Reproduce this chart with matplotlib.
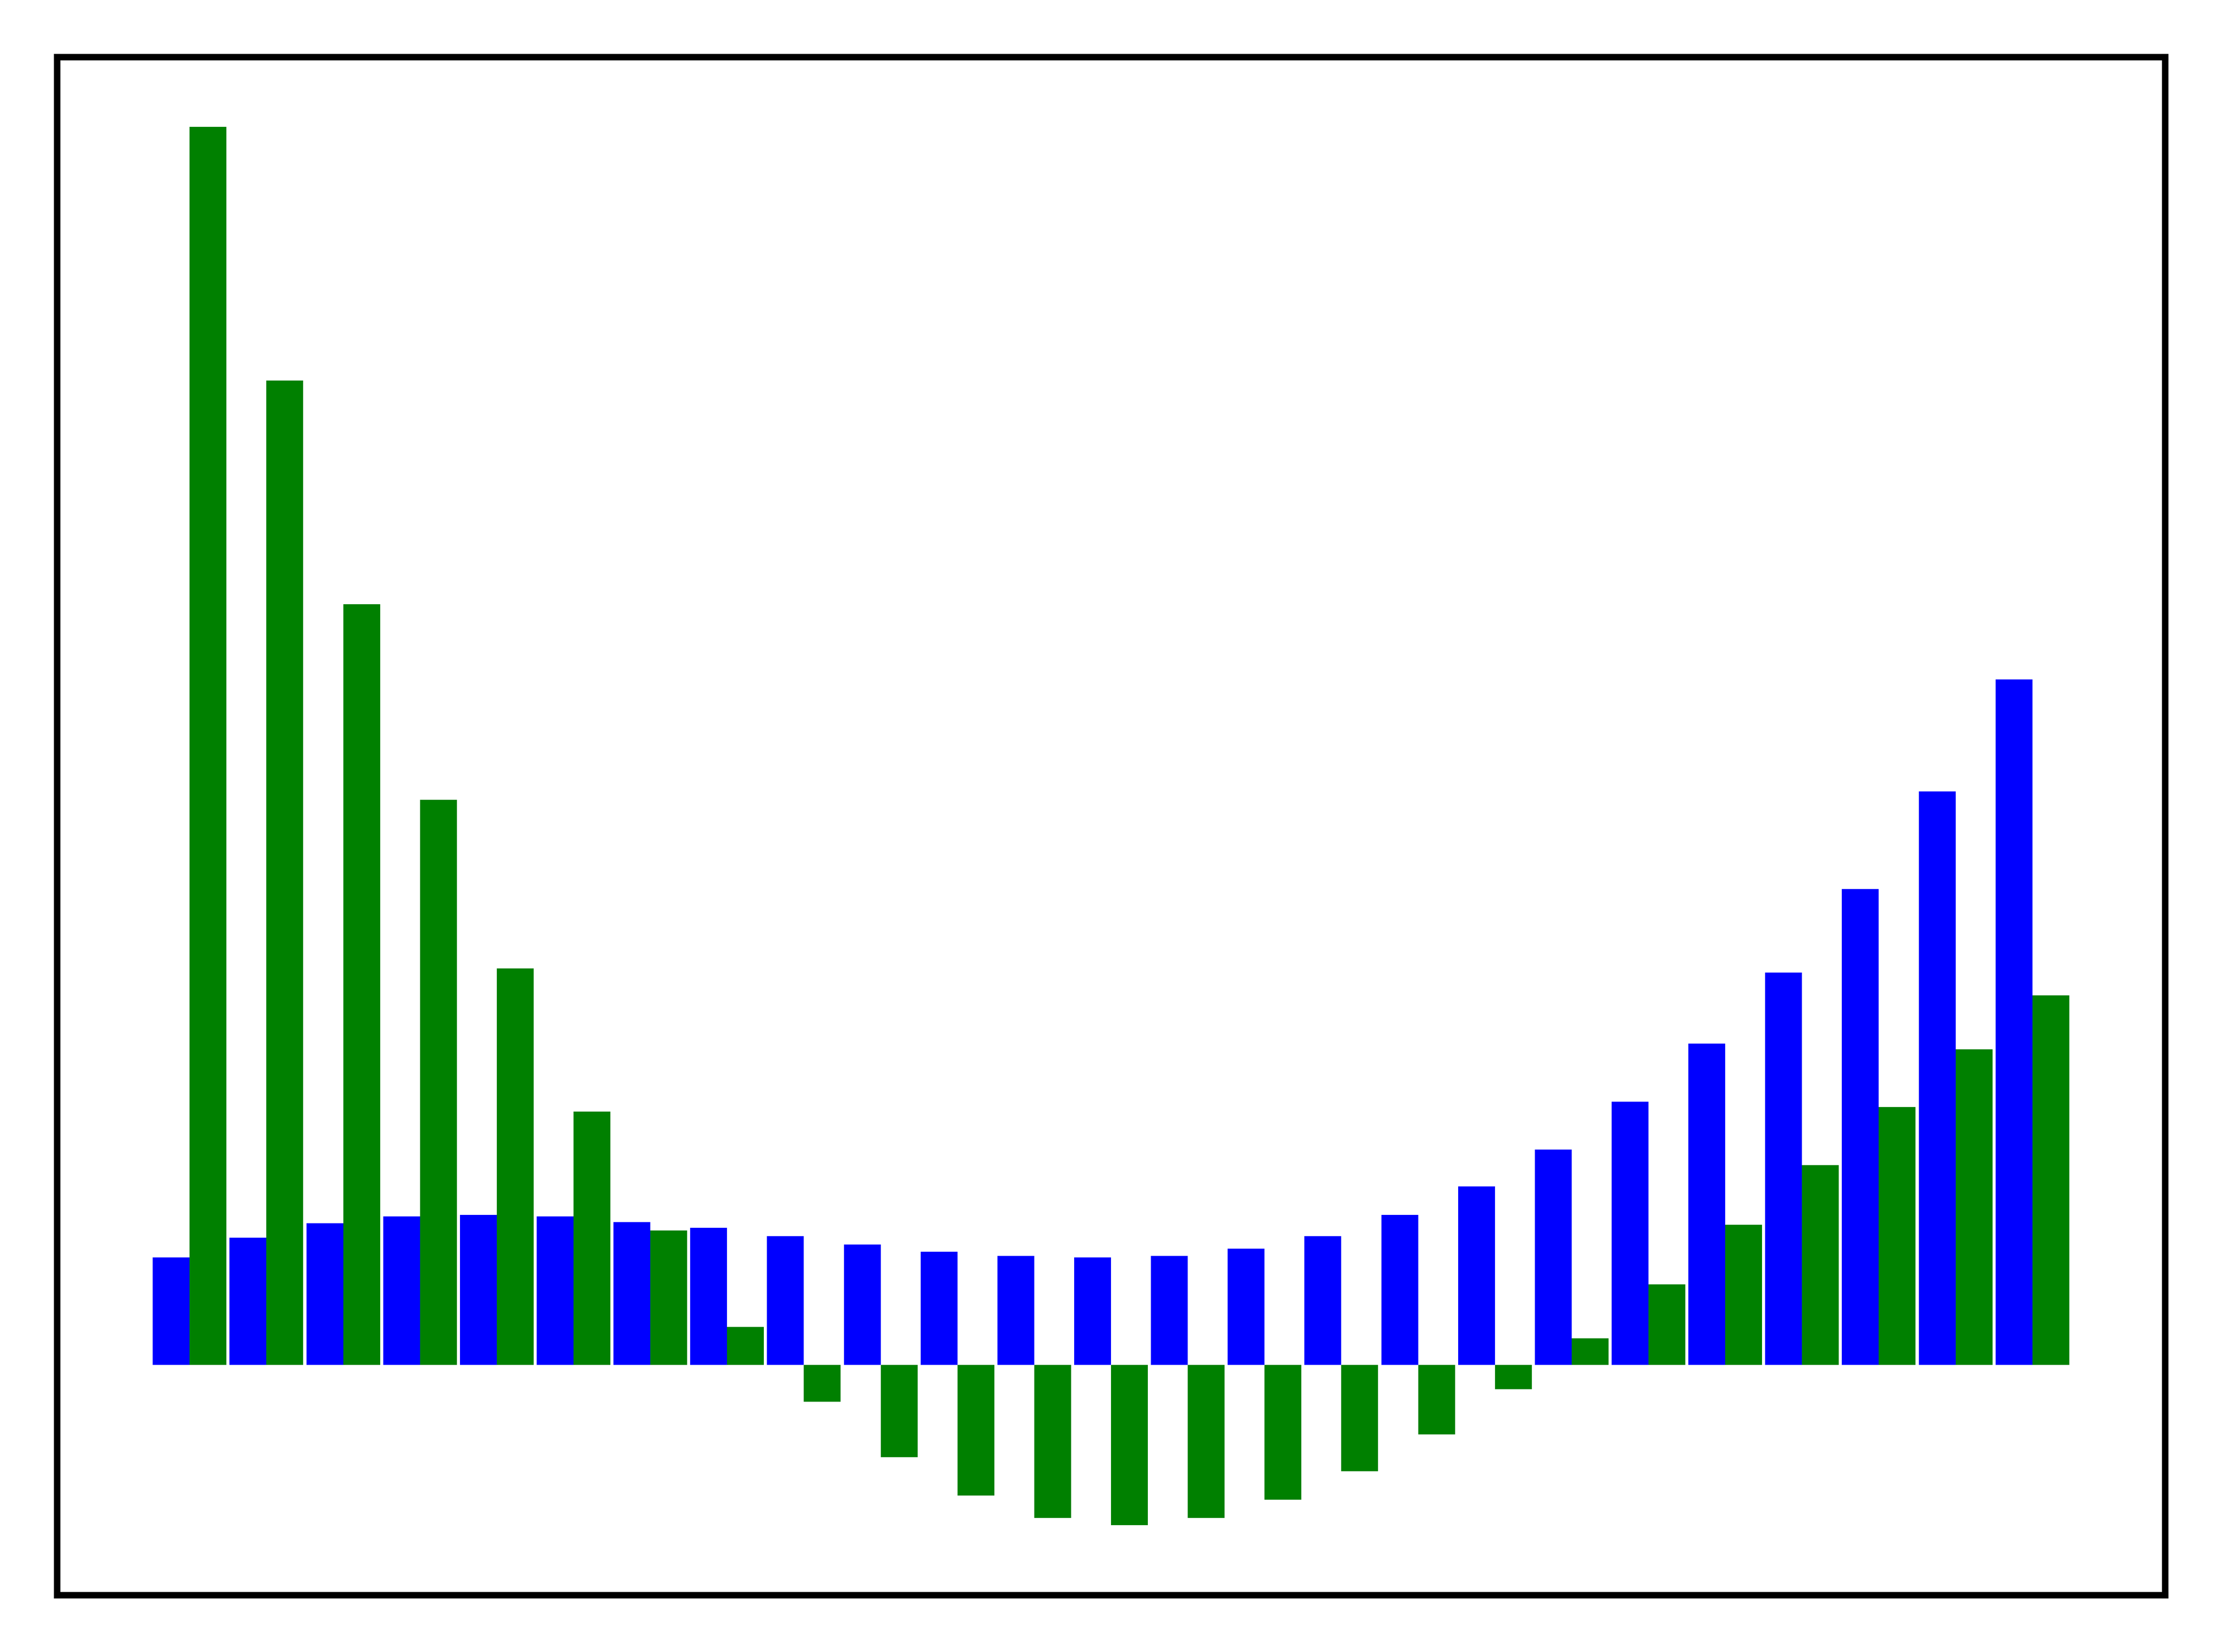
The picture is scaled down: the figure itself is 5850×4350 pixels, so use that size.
import numpy as np
import matplotlib
matplotlib.use("Agg")
import matplotlib.pyplot as plt

# bar heights (arbitrary units, baseline = 0)
blue_vals = [76, 90, 100, 105, 106, 105, 101, 97, 91, 85, 80, 77, 76,
             77, 82, 91, 106, 126, 152, 186, 227, 277, 336, 405, 484]
green_vals = [874, 695, 537, 399, 280, 179, 95, 27, -26, -65, -92, -108, -113,
              -108, -95, -75, -49, -17, 19, 57, 99, 141, 182, 223, 261]

x = np.arange(len(blue_vals))
w = 0.48

fig = plt.figure(figsize=(19.5, 14.5), dpi=300)
ax = fig.add_axes([150 / 5850, 150 / 4350, 5550 / 5850, 4050 / 4350])

ax.bar(x - w, blue_vals, width=w, align='edge', color='blue', linewidth=0)
ax.bar(x, green_vals, width=w, align='edge', color='green', linewidth=0)

ax.set_xticks([])
ax.set_yticks([])
for sp in ax.spines.values():
    sp.set_linewidth(4.1)
    sp.set_color('black')

fig.savefig("out.png", dpi=300)
